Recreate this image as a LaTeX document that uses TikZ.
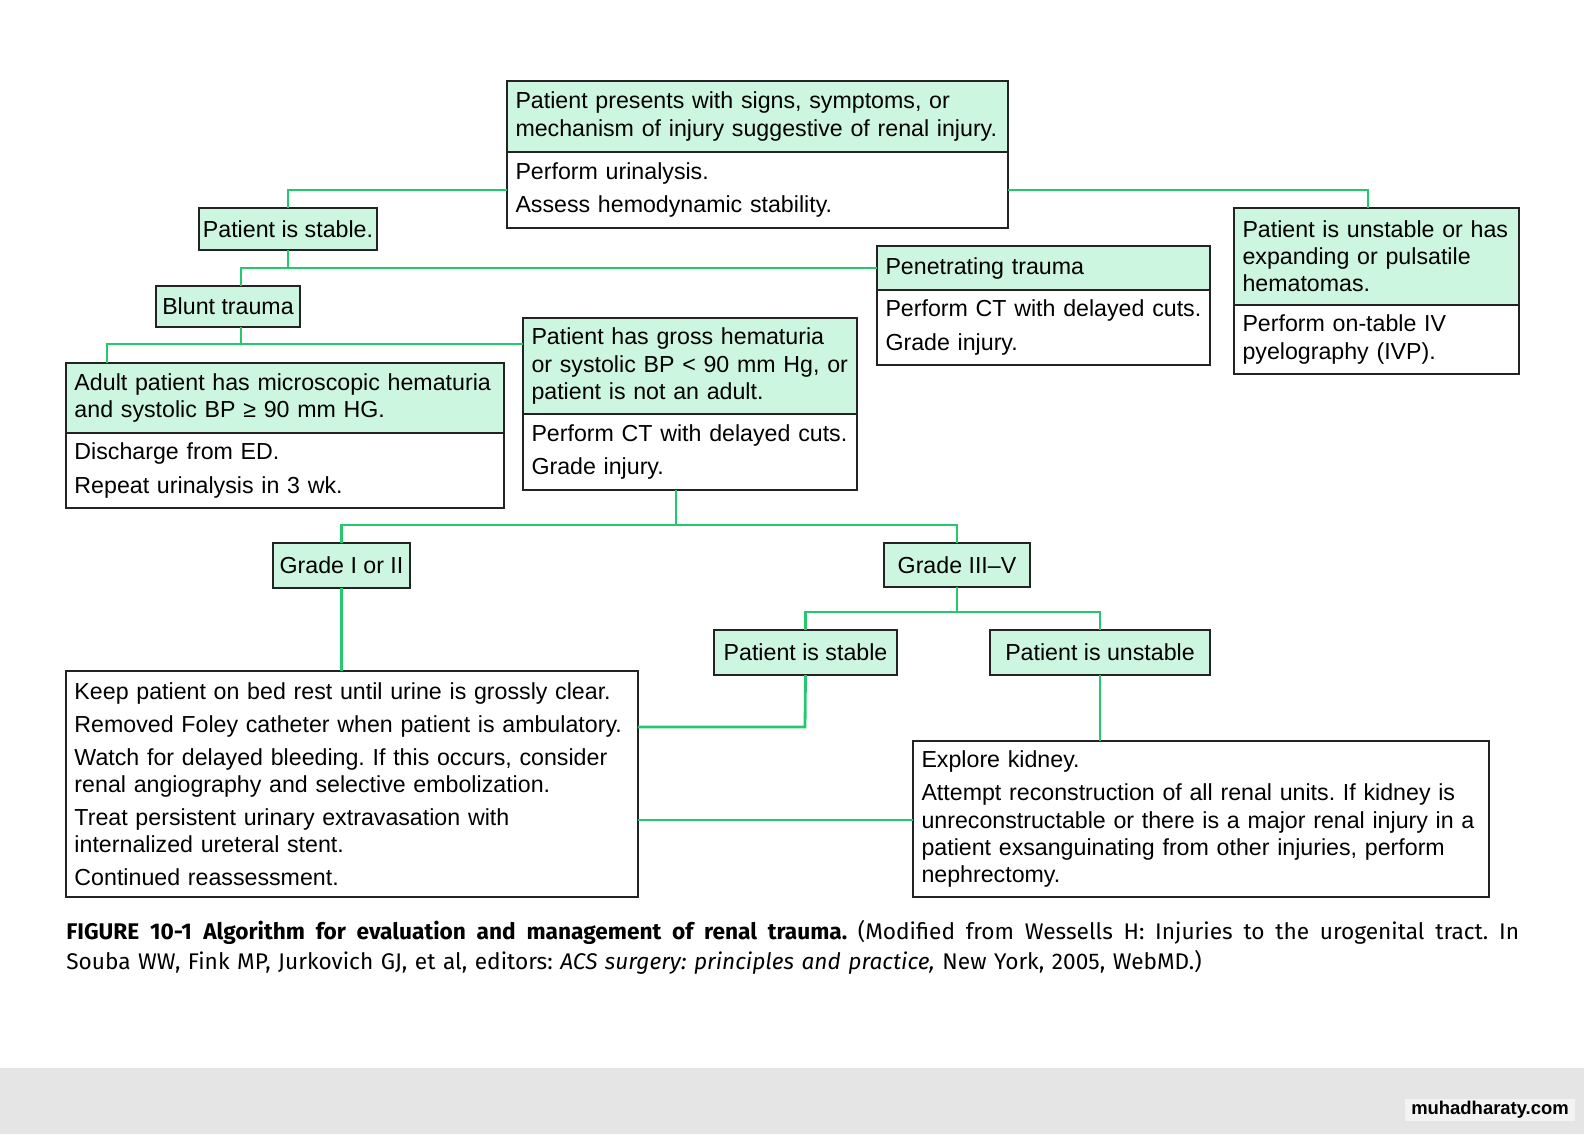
\documentclass[tikz,border=0pt]{standalone}
\usepackage{fontspec}
\setmainfont{Liberation Sans}
\newfontfamily\capfont{Fira Sans}
\usetikzlibrary{positioning}
\definecolor{mint}{RGB}{204,246,224}
\definecolor{linkgreen}{RGB}{38,200,110}
\definecolor{boxline}{RGB}{35,35,35}
\definecolor{footgray}{RGB}{229,229,229}
\frenchspacing

\tikzset{
  box/.style={draw=boxline, line width=0.8pt, align=left, inner xsep=0.17cm, inner ysep=0pt,
    outer sep=0pt, font=\fontsize{13.2}{15.4}\selectfont,
    execute at begin node={\hyphenpenalty=10000}},
  headbox/.style={box, fill=mint, anchor=north west},
  bodybox/.style={box, fill=white},
  tagbox/.style={box, fill=mint, align=center, inner xsep=0pt},
  link/.style={draw=linkgreen, line width=1.6pt},
}

\begin{document}
\begin{tikzpicture}[x=0.02cm, y=-0.02cm]
  \useasboundingbox (0,0) rectangle (1584,1134);

  % first assessment
  \node[headbox, text width=9.68cm, minimum height=1.42cm] (tophead) at (507,81)
    {Patient presents with signs, symptoms, or\\mechanism of injury suggestive of renal injury.};
  \node[bodybox, text width=9.68cm, minimum height=1.52cm, below=0pt of tophead] (topbody)
    {Perform urinalysis.\\[0.12cm]Assess hemodynamic stability.};

  \node[tagbox, minimum width=3.56cm, minimum height=0.84cm] (stable) at (288,229) {Patient is stable.};
  \node[tagbox, minimum width=2.88cm, minimum height=0.82cm] (blunt) at (228,306.5) {Blunt trauma};

  \node[headbox, text width=5.36cm, minimum height=1.94cm] (unsthead) at (1234,208)
    {Patient is unstable or has\\expanding or pulsatile\\hematomas.};
  \node[bodybox, text width=5.36cm, minimum height=1.38cm, below=0pt of unsthead] (unstbody)
    {Perform on-table IV\\pyelography (IVP).};

  \node[headbox, text width=6.32cm, minimum height=0.88cm] (penhead) at (877,246) {Penetrating trauma};
  \node[bodybox, text width=6.32cm, minimum height=1.50cm, below=0pt of penhead] (penbody)
    {Perform CT with delayed cuts.\\[0.12cm]Grade injury.};

  % blunt trauma branches
  \node[headbox, text width=8.42cm, minimum height=1.40cm] (adulthead) at (66,363)
    {Adult patient has microscopic hematuria\\and systolic BP ≥ 90 mm HG.};
  \node[bodybox, text width=8.42cm, minimum height=1.50cm, below=0pt of adulthead] (adultbody)
    {Discharge from ED.\\[0.12cm]Repeat urinalysis in 3 wk.};

  \node[headbox, text width=6.34cm, minimum height=1.92cm] (grosshead) at (523,318)
    {Patient has gross hematuria\\or systolic BP < 90 mm Hg, or\\patient is not an adult.};
  \node[bodybox, text width=6.34cm, minimum height=1.52cm, below=0pt of grosshead] (grossbody)
    {Perform CT with delayed cuts.\\[0.12cm]Grade injury.};

  % grades
  \node[tagbox, minimum width=2.74cm, minimum height=0.90cm] (grade12) at (341.5,565.5) {Grade I or II};
  \node[tagbox, minimum width=2.92cm, minimum height=0.88cm] (grade35) at (957,565) {Grade III–V};
  \node[tagbox, minimum width=3.66cm, minimum height=0.90cm] (stable2) at (805.5,652.5) {Patient is stable};
  \node[tagbox, minimum width=4.40cm, minimum height=0.90cm] (unstable2) at (1100,652.5) {Patient is unstable};

  \node[bodybox, anchor=north west, text width=11.10cm, minimum height=4.52cm] (care) at (66,671)
    {Keep patient on bed rest until urine is grossly clear.\\[0.12cm]Removed Foley catheter when patient is ambulatory.\\[0.12cm]Watch for delayed bleeding. If this occurs, consider\\renal angiography and selective embolization.\\[0.12cm]Treat persistent urinary extravasation with\\internalized ureteral stent.\\[0.12cm]Continued reassessment.};
  \node[bodybox, anchor=north west, text width=11.18cm, minimum height=3.12cm] (explore) at (913,741)
    {Explore kidney.\\[0.12cm]Attempt reconstruction of all renal units. If kidney is\\unreconstructable or there is a major renal injury in a\\patient exsanguinating from other injuries, perform\\nephrectomy.};

  % connectors
  \draw[link] (topbody.west) -| (stable.north);
  \draw[link] (topbody.east) -| ([xshift=-0.17cm]unsthead.north);
  \coordinate (bluntjoin) at (241,268);
  \draw[link] (stable.south) -- (stable.south |- bluntjoin);
  \draw[link] (blunt.north -| bluntjoin) -- (bluntjoin) -- (bluntjoin -| penhead.west);
  \coordinate (bluntout) at (241,344);
  \draw[link] (bluntout |- blunt.south) -- (bluntout);
  \coordinate (adultjoin) at (107,344);
  \draw[link] (adultjoin |- adulthead.north) -- (adultjoin) -- (adultjoin -| grosshead.west);
  \coordinate (gradejoin) at (676,525);
  \draw[link] (gradejoin |- grossbody.south) -- (gradejoin);
  \draw[link] (grade12.north) |- (gradejoin) -| (grade35.north);
  \draw[link] (grade12.south) -- (grade12.south |- care.north);
  \coordinate (stabjoin) at (957,612);
  \draw[link] (grade35.south) -- (stabjoin);
  \draw[link] (stable2.north) |- (stabjoin) -| (unstable2.north);
  \coordinate (stabout) at (805,727);
  \draw[link] (stable2.south) -- (stabout) -- (stabout -| care.east);
  \draw[link] (unstable2.south) -- (unstable2.south |- explore.north);
  \coordinate (carejoin) at (700,820);
  \draw[link] (carejoin -| care.east) -- (carejoin -| explore.west);

  % caption
  \node[anchor=north west, inner sep=0pt, align=left, text width=29.06cm,
    font=\capfont\fontsize{12.9}{17}\selectfont] (caption) at (66,920)
    {\hbox to 29.06cm{\spaceskip=0.26em plus 1em\relax\bfseries FIGURE 10-1\enspace Algorithm for evaluation and management of renal trauma. \mdseries(Modified from Wessells H: Injuries to the urogenital tract. In}\\
     Souba WW, Fink MP, Jurkovich GJ, et al, editors: \itshape ACS surgery: principles and practice,\upshape{} New York, 2005, WebMD.)};

  % footer
  \fill[footgray] (0,1068) rectangle (1584,1134);
  \node[fill=white!55!footgray, inner xsep=0.12cm, inner ysep=0.05cm,
    font=\bfseries\fontsize{10.5}{12}\selectfont] (site) at (1490,1110) {muhadharaty.com};
\end{tikzpicture}
\end{document}
